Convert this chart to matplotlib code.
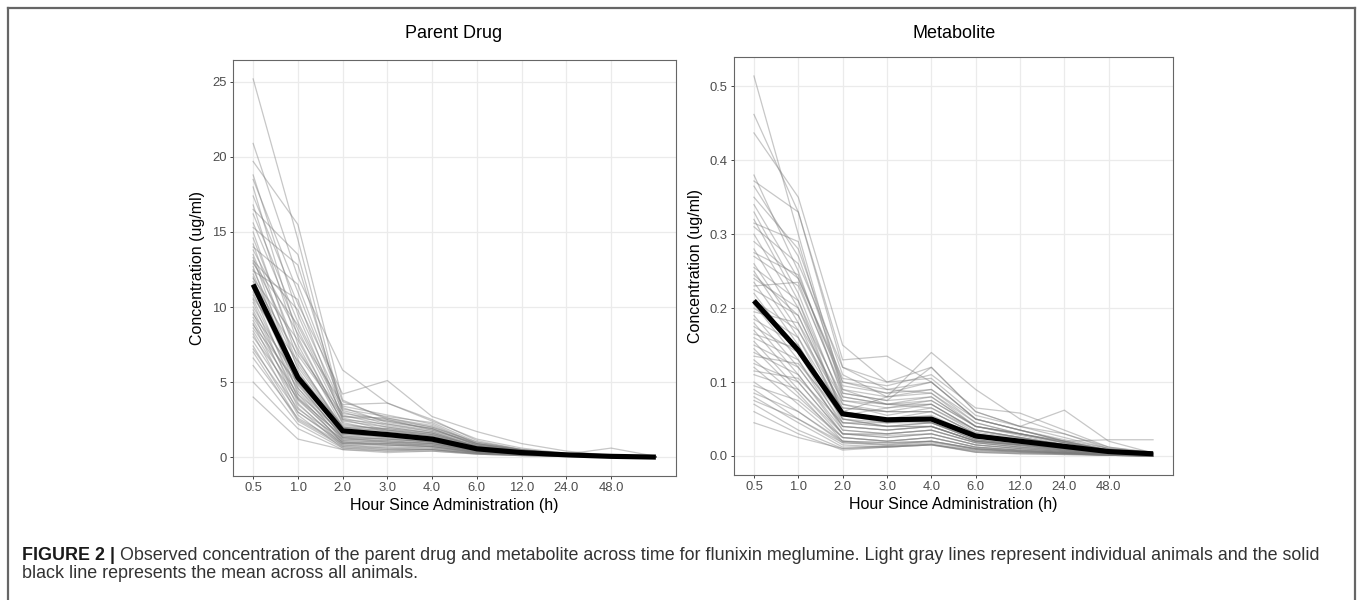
import matplotlib
matplotlib.use("Agg")
import matplotlib.pyplot as plt
from matplotlib.lines import Line2D

# ---------------- data ----------------
time_labels = ['0.5', '1.0', '2.0', '3.0', '4.0', '6.0', '12.0', '24.0', '48.0']
n_times = 10  # last sampling point is unlabeled on the axis

parent_mean = [11.5, 5.3, 1.75, 1.5, 1.2, 0.55, 0.3, 0.15, 0.05, 0.0]
metab_mean = [0.210, 0.143, 0.057, 0.049, 0.050, 0.027, 0.020, 0.013, 0.006, 0.003]

parent_animals = [
    [25.2, 14.5, 3.0, 2.2, 1.8, 0.9, 0.45, 0.2, 0.06, 0.01],
    [20.9, 12.0, 5.8, 3.6, 2.4, 1.2, 0.6, 0.25, 0.08, 0.01],
    [19.7, 15.5, 3.8, 2.5, 2.0, 1.0, 0.5, 0.2, 0.07, 0.0],
    [18.8, 9.5, 2.6, 2.0, 1.6, 0.7, 0.4, 0.18, 0.05, 0.0],
    [18.5, 11.0, 3.4, 2.8, 2.2, 0.9, 0.5, 0.22, 0.06, 0.0],
    [18.0, 8.0, 2.2, 1.8, 1.4, 0.6, 0.35, 0.15, 0.05, 0.0],
    [17.4, 10.2, 4.2, 5.1, 2.7, 1.7, 0.9, 0.4, 0.1, 0.02],
    [16.8, 7.5, 2.0, 1.9, 1.5, 0.7, 0.4, 0.2, 0.05, 0.0],
    [16.2, 9.0, 3.1, 2.4, 1.9, 0.8, 0.45, 0.2, 0.6, 0.05],
    [15.6, 8.5, 2.5, 2.2, 1.7, 0.7, 0.4, 0.2, 0.06, 0.0],
    [15.0, 6.5, 1.8, 1.6, 1.3, 0.6, 0.3, 0.15, 0.05, 0.0],
    [14.6, 7.0, 2.9, 2.5, 1.8, 0.8, 0.4, 0.18, 0.05, 0.0],
    [14.2, 5.8, 1.5, 1.4, 1.2, 0.5, 0.3, 0.12, 0.04, 0.0],
    [13.8, 8.2, 3.5, 3.6, 2.5, 1.1, 0.5, 0.2, 0.06, 0.0],
    [13.5, 6.2, 2.0, 1.7, 1.4, 0.6, 0.3, 0.15, 0.05, 0.0],
    [13.3, 5.0, 1.3, 1.2, 1.0, 0.5, 0.25, 0.12, 0.04, 0.0],
    [13.0, 7.2, 2.4, 2.0, 1.6, 0.7, 0.35, 0.16, 0.05, 0.0],
    [12.7, 4.6, 1.1, 1.0, 0.9, 0.4, 0.2, 0.1, 0.03, 0.0],
    [12.5, 6.0, 1.9, 1.8, 1.5, 0.6, 0.3, 0.15, 0.05, 0.0],
    [12.2, 5.5, 1.6, 1.3, 1.1, 0.5, 0.25, 0.12, 0.04, 0.0],
    [12.0, 4.2, 0.9, 0.8, 0.7, 0.35, 0.2, 0.1, 0.03, 0.0],
    [11.7, 6.8, 2.7, 2.6, 2.0, 0.9, 0.45, 0.2, 0.05, 0.0],
    [11.5, 5.2, 1.7, 1.5, 1.2, 0.55, 0.3, 0.14, 0.04, 0.0],
    [11.2, 4.8, 1.4, 1.3, 1.0, 0.45, 0.25, 0.12, 0.04, 0.0],
    [11.0, 3.9, 1.0, 0.9, 0.8, 0.4, 0.2, 0.1, 0.03, 0.0],
    [10.8, 5.6, 2.1, 1.9, 1.6, 0.7, 0.35, 0.16, 0.05, 0.0],
    [10.5, 4.4, 1.2, 1.1, 0.9, 0.4, 0.2, 0.1, 0.03, 0.0],
    [10.3, 3.6, 0.8, 0.6, 0.6, 0.3, 0.15, 0.08, 0.02, 0.0],
    [10.0, 5.0, 1.8, 1.6, 1.3, 0.6, 0.3, 0.14, 0.04, 0.0],
    [9.8, 4.0, 1.3, 1.2, 1.0, 0.45, 0.25, 0.12, 0.03, 0.0],
    [9.6, 3.3, 0.7, 0.5, 0.5, 0.25, 0.15, 0.07, 0.02, 0.0],
    [9.3, 4.6, 1.5, 1.4, 1.1, 0.5, 0.25, 0.12, 0.04, 0.0],
    [9.1, 3.8, 1.1, 1.0, 0.8, 0.4, 0.2, 0.1, 0.03, 0.0],
    [8.9, 3.0, 0.9, 0.9, 0.7, 0.35, 0.18, 0.08, 0.02, 0.0],
    [8.6, 4.2, 1.6, 1.5, 1.2, 0.55, 0.3, 0.13, 0.04, 0.0],
    [8.4, 3.5, 1.0, 0.8, 0.7, 0.3, 0.15, 0.08, 0.02, 0.0],
    [8.2, 2.8, 0.6, 0.4, 0.5, 0.25, 0.12, 0.06, 0.02, 0.0],
    [8.0, 3.9, 1.4, 1.2, 1.0, 0.45, 0.22, 0.1, 0.03, 0.0],
    [7.7, 3.2, 1.2, 1.1, 0.9, 0.4, 0.2, 0.1, 0.03, 0.0],
    [7.4, 2.5, 0.8, 0.7, 0.6, 0.3, 0.15, 0.07, 0.02, 0.0],
    [7.2, 3.0, 1.0, 0.9, 0.8, 0.35, 0.18, 0.08, 0.02, 0.0],
    [7.0, 2.4, 0.7, 0.6, 0.5, 0.25, 0.12, 0.06, 0.02, 0.0],
    [6.6, 2.6, 0.9, 0.8, 0.7, 0.3, 0.15, 0.07, 0.02, 0.0],
    [6.1, 2.2, 0.6, 0.5, 0.5, 0.2, 0.1, 0.05, 0.02, 0.0],
    [5.0, 1.9, 0.5, 0.4, 0.4, 0.2, 0.1, 0.05, 0.01, 0.0],
    [4.0, 1.2, 0.5, 0.3, 0.4, 0.2, 0.1, 0.05, 0.01, 0.0],
    [13.1, 9.8, 3.3, 2.3, 1.9, 0.8, 0.4, 0.18, 0.05, 0.0],
    [12.9, 8.8, 2.8, 2.1, 1.7, 0.75, 0.4, 0.17, 0.05, 0.0],
    [11.9, 7.8, 2.3, 1.7, 1.4, 0.65, 0.3, 0.15, 0.04, 0.0],
    [10.6, 6.4, 2.0, 1.5, 1.3, 0.6, 0.3, 0.14, 0.04, 0.0],
    [9.5, 5.4, 1.7, 1.4, 1.2, 0.5, 0.25, 0.12, 0.03, 0.0],
    [8.8, 4.9, 1.3, 1.0, 0.9, 0.45, 0.2, 0.1, 0.03, 0.0],
    [14.0, 11.5, 3.7, 2.6, 2.1, 0.9, 0.45, 0.2, 0.06, 0.0],
    [15.3, 12.8, 3.2, 2.7, 2.3, 1.0, 0.5, 0.22, 0.06, 0.0],
    [16.5, 13.5, 2.7, 2.4, 1.9, 0.85, 0.45, 0.2, 0.05, 0.0],
    [12.4, 10.5, 2.5, 1.8, 1.5, 0.7, 0.35, 0.16, 0.05, 0.0],
]

metab_animals = [
    [0.514, 0.30, 0.09, 0.07, 0.08, 0.04, 0.03, 0.02, 0.008, 0.003],
    [0.462, 0.33, 0.12, 0.09, 0.10, 0.05, 0.035, 0.022, 0.01, 0.004],
    [0.437, 0.35, 0.15, 0.10, 0.12, 0.06, 0.04, 0.025, 0.01, 0.004],
    [0.380, 0.25, 0.08, 0.07, 0.065, 0.035, 0.025, 0.015, 0.007, 0.003],
    [0.372, 0.33, 0.13, 0.135, 0.10, 0.05, 0.035, 0.02, 0.008, 0.003],
    [0.350, 0.28, 0.11, 0.08, 0.14, 0.09, 0.05, 0.03, 0.012, 0.005],
    [0.340, 0.24, 0.10, 0.09, 0.085, 0.04, 0.03, 0.018, 0.008, 0.003],
    [0.330, 0.22, 0.07, 0.06, 0.07, 0.035, 0.025, 0.015, 0.006, 0.002],
    [0.315, 0.29, 0.085, 0.075, 0.12, 0.06, 0.04, 0.062, 0.02, 0.004],
    [0.300, 0.20, 0.06, 0.05, 0.06, 0.03, 0.02, 0.012, 0.005, 0.002],
    [0.290, 0.24, 0.105, 0.095, 0.11, 0.065, 0.058, 0.035, 0.012, 0.004],
    [0.280, 0.18, 0.05, 0.045, 0.05, 0.025, 0.02, 0.012, 0.005, 0.002],
    [0.270, 0.23, 0.09, 0.08, 0.09, 0.05, 0.035, 0.02, 0.008, 0.003],
    [0.260, 0.17, 0.06, 0.05, 0.045, 0.025, 0.018, 0.01, 0.004, 0.002],
    [0.255, 0.21, 0.075, 0.065, 0.07, 0.035, 0.025, 0.015, 0.006, 0.002],
    [0.250, 0.16, 0.045, 0.04, 0.04, 0.02, 0.015, 0.01, 0.004, 0.001],
    [0.240, 0.20, 0.08, 0.07, 0.075, 0.04, 0.03, 0.018, 0.007, 0.003],
    [0.235, 0.15, 0.05, 0.04, 0.045, 0.022, 0.016, 0.01, 0.004, 0.001],
    [0.225, 0.19, 0.065, 0.06, 0.06, 0.03, 0.022, 0.014, 0.005, 0.002],
    [0.220, 0.14, 0.04, 0.035, 0.04, 0.02, 0.014, 0.008, 0.003, 0.001],
    [0.210, 0.17, 0.07, 0.055, 0.065, 0.032, 0.024, 0.015, 0.006, 0.002],
    [0.205, 0.13, 0.035, 0.03, 0.035, 0.018, 0.012, 0.008, 0.003, 0.001],
    [0.200, 0.16, 0.06, 0.05, 0.055, 0.028, 0.02, 0.012, 0.005, 0.002],
    [0.190, 0.12, 0.04, 0.035, 0.04, 0.02, 0.015, 0.009, 0.004, 0.001],
    [0.185, 0.15, 0.055, 0.045, 0.05, 0.025, 0.018, 0.011, 0.005, 0.002],
    [0.180, 0.11, 0.03, 0.025, 0.03, 0.015, 0.01, 0.006, 0.003, 0.001],
    [0.175, 0.14, 0.05, 0.04, 0.045, 0.022, 0.016, 0.01, 0.004, 0.001],
    [0.170, 0.10, 0.03, 0.03, 0.035, 0.018, 0.012, 0.007, 0.003, 0.001],
    [0.160, 0.13, 0.045, 0.04, 0.04, 0.02, 0.015, 0.009, 0.004, 0.001],
    [0.155, 0.09, 0.025, 0.02, 0.025, 0.012, 0.008, 0.005, 0.002, 0.001],
    [0.150, 0.12, 0.04, 0.035, 0.04, 0.02, 0.014, 0.008, 0.003, 0.001],
    [0.145, 0.085, 0.02, 0.018, 0.02, 0.01, 0.007, 0.004, 0.002, 0.0],
    [0.140, 0.11, 0.035, 0.03, 0.035, 0.018, 0.012, 0.007, 0.003, 0.001],
    [0.130, 0.08, 0.025, 0.02, 0.025, 0.012, 0.008, 0.005, 0.002, 0.0],
    [0.125, 0.10, 0.03, 0.028, 0.03, 0.015, 0.01, 0.006, 0.002, 0.001],
    [0.120, 0.07, 0.02, 0.015, 0.02, 0.01, 0.006, 0.004, 0.002, 0.0],
    [0.110, 0.09, 0.03, 0.025, 0.03, 0.015, 0.01, 0.006, 0.002, 0.001],
    [0.100, 0.06, 0.018, 0.014, 0.018, 0.009, 0.006, 0.004, 0.001, 0.0],
    [0.095, 0.075, 0.025, 0.02, 0.025, 0.012, 0.008, 0.005, 0.002, 0.0],
    [0.090, 0.05, 0.015, 0.012, 0.015, 0.008, 0.005, 0.003, 0.001, 0.0],
    [0.085, 0.06, 0.02, 0.018, 0.02, 0.01, 0.007, 0.004, 0.002, 0.0],
    [0.080, 0.045, 0.012, 0.013, 0.016, 0.007, 0.005, 0.003, 0.001, 0.0],
    [0.075, 0.05, 0.018, 0.016, 0.02, 0.009, 0.006, 0.004, 0.001, 0.0],
    [0.070, 0.035, 0.01, 0.012, 0.015, 0.006, 0.004, 0.003, 0.001, 0.0],
    [0.060, 0.03, 0.008, 0.012, 0.015, 0.005, 0.003, 0.002, 0.001, 0.0],
    [0.045, 0.025, 0.01, 0.013, 0.016, 0.005, 0.003, 0.002, 0.001, 0.0],
    [0.365, 0.27, 0.10, 0.085, 0.09, 0.045, 0.03, 0.02, 0.022, 0.022],
    [0.310, 0.26, 0.12, 0.10, 0.105, 0.055, 0.04, 0.03, 0.01, 0.004],
    [0.275, 0.245, 0.095, 0.085, 0.10, 0.05, 0.035, 0.02, 0.008, 0.003],
    [0.230, 0.235, 0.085, 0.075, 0.08, 0.04, 0.03, 0.018, 0.007, 0.003],
    [0.195, 0.18, 0.075, 0.07, 0.07, 0.035, 0.025, 0.015, 0.006, 0.002],
    [0.165, 0.145, 0.065, 0.06, 0.06, 0.03, 0.02, 0.012, 0.005, 0.002],
    [0.135, 0.125, 0.055, 0.05, 0.05, 0.025, 0.018, 0.011, 0.004, 0.001],
    [0.115, 0.105, 0.045, 0.045, 0.045, 0.022, 0.016, 0.01, 0.004, 0.001],
    [0.245, 0.19, 0.06, 0.08, 0.085, 0.045, 0.03, 0.018, 0.007, 0.003],
    [0.320, 0.21, 0.055, 0.065, 0.075, 0.04, 0.028, 0.016, 0.006, 0.002],
]

panel_titles = ['Parent Drug', 'Metabolite']
y_label = 'Concentration (ug/ml)'
x_label = 'Hour Since Administration (h)'
caption_bold = 'FIGURE 2 | '
caption_line1 = ('Observed concentration of the parent drug and metabolite across time for '
                 'flunixin meglumine. Light gray lines represent individual animals and the solid')
caption_line2 = 'black line represents the mean across all animals.'

# ---------------- drawing ----------------
plt.rcParams['font.family'] = ['Liberation Sans', 'DejaVu Sans']

W, H = 1360, 600
fig = plt.figure(figsize=(W / 100, H / 100), dpi=100)


def px_rect(l, t, r, b):
    return [l / W, 1 - b / H, (r - l) / W, (b - t) / H]


ax1 = fig.add_axes(px_rect(233, 60, 676, 476))
ax2 = fig.add_axes(px_rect(734, 57, 1173, 475))

xs = list(range(1, n_times + 1))

panels = [
    (ax1, parent_animals, parent_mean, [0, 5, 10, 15, 20, 25], '{:.0f}', -0.063, 454),
    (ax2, metab_animals, metab_mean, [0.0, 0.1, 0.2, 0.3, 0.4, 0.5], '{:.1f}', -0.071, 954),
]

for (ax, animals, mean, yticks, fmt, ylab_x, title_x), title in zip(panels, panel_titles):
    for row in animals:
        ax.plot(xs, row, color='#7a7a7a', alpha=0.42, lw=0.9, zorder=2)
    ax.plot(xs, mean, color='black', lw=3.7, zorder=3, solid_capstyle='butt')

    allv = [v for r in animals for v in r]
    lo, hi = min(allv), max(allv)
    pad = (hi - lo) * 0.05
    ax.set_ylim(lo - pad, hi + pad)
    ax.set_xlim(1 - 0.45, n_times + 0.45)

    ax.set_xticks(xs[:len(time_labels)])
    ax.set_xticklabels(time_labels)
    ax.set_yticks(yticks)
    ax.set_yticklabels([fmt.format(v) for v in yticks])

    ax.grid(True, color='#EBEBEB', lw=0.9, zorder=0)
    ax.set_axisbelow(True)
    for s in ax.spines.values():
        s.set_color('#666666')
        s.set_linewidth(0.8)
    ax.tick_params(axis='both', length=2.5, width=0.7, color='#444444',
                   labelcolor='#4D4D4D', labelsize=9.4, pad=2)

    ax.set_ylabel(y_label, fontsize=11.5, color='black')
    ax.yaxis.set_label_coords(ylab_x, 0.5)
    ax.set_xlabel(x_label, fontsize=11.5, color='black')
    ax.xaxis.set_label_coords(0.5, -0.052)
    ax.xaxis.label.set_va('top')
    fig.text(title_x / W, 1 - 34 / H, title, ha='center', va='center',
             fontsize=13, color='black')

# outer frame (top, left, right)
fc = '#666666'
fig.add_artist(Line2D([8 / W, 1355 / W], [1 - 8 / H, 1 - 8 / H], transform=fig.transFigure,
                      color=fc, lw=1.6))
fig.add_artist(Line2D([8 / W, 8 / W], [0, 1 - 8 / H], transform=fig.transFigure,
                      color=fc, lw=1.6))
fig.add_artist(Line2D([1355 / W, 1355 / W], [0, 1 - 8 / H], transform=fig.transFigure,
                      color=fc, lw=1.6))

# caption
cap_x = 22 / W
y1 = 1 - 555 / H
y2 = 1 - 574 / H
t_bold = fig.text(cap_x, y1, caption_bold, fontsize=12.9, fontweight='bold', color='#1a1a1a',
                  va='center', ha='left')
fig.canvas.draw()
r = fig.canvas.get_renderer()
bb = t_bold.get_window_extent(renderer=r)
fig.text(bb.x1 / W, y1, caption_line1, fontsize=12.9, color='#333333', va='center', ha='left')
fig.text(cap_x, y2, caption_line2, fontsize=12.9, color='#333333', va='center', ha='left')

fig.savefig('out.png', dpi=100, facecolor='white')
